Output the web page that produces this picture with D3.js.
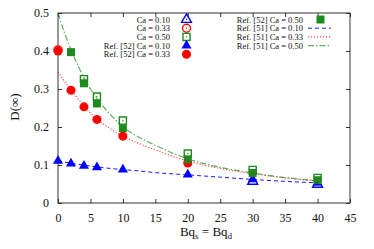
<!DOCTYPE html>
<html>
<head>
<meta charset="utf-8">
<script src="https://cdn.jsdelivr.net/npm/d3@7"></script>
<style>
  body { margin: 0; background: #fff; }
  text { font-family: "Liberation Serif", "DejaVu Serif", serif; fill: #111; }
</style>
</head>
<body>
<div id="chart"></div>
<script>
// --- data ---
var xTicks = [0, 5, 10, 15, 20, 25, 30, 35, 40, 45];
var yTicks = [0, 0.1, 0.2, 0.3, 0.4, 0.5];

// present DNS (open markers)
var dns010 = [[30, 0.057], [40, 0.049]];
var dns033 = [[0, 0.403]];
var dns050 = [[4, 0.326], [6, 0.280], [10, 0.217], [20, 0.130], [30, 0.087], [40, 0.066]];

// Ref. [52] (filled markers)
var ref52_010 = [[0, 0.111], [2, 0.104], [4, 0.098], [6, 0.094], [10, 0.088], [20, 0.075], [30, 0.062], [40, 0.053]];
var ref52_033 = [[0, 0.400], [2, 0.297], [4, 0.253], [6, 0.220], [10, 0.176], [20, 0.105]];
var ref52_050 = [[2, 0.397], [4, 0.315], [6, 0.262], [10, 0.197], [20, 0.115], [30, 0.079], [40, 0.060]];

// Ref. [51] (curves)
var curveX = [0, 1, 2, 3, 4, 5, 6, 8, 10, 12, 15, 20, 25, 30, 35, 40];
var ref51_010 = [0.111, 0.108, 0.105, 0.102, 0.100, 0.097, 0.095, 0.091, 0.088, 0.085, 0.080, 0.074, 0.068, 0.062, 0.057, 0.053];
var ref51_033 = [0.345, 0.320, 0.298, 0.276, 0.256, 0.237, 0.221, 0.196, 0.176, 0.160, 0.140, 0.110, 0.091, 0.077, 0.066, 0.058];
var ref51_050 = [0.500, 0.448, 0.403, 0.364, 0.330, 0.300, 0.275, 0.234, 0.200, 0.178, 0.152, 0.116, 0.094, 0.079, 0.067, 0.059];

var blue = "#0000ff", red = "#ff0000", green = "#1f8a1f";

var width = 374, height = 249;
var svg = d3.select("#chart").append("svg")
    .attr("width", width)
    .attr("height", height);

var x = d3.scaleLinear().domain([0, 45]).range([58, 350]);
var y = d3.scaleLinear().domain([0, 0.5]).range([203, 13]);

// axes (inward ticks on all four sides)
var fmtY = function (d) { return d === 0 ? "0" : d3.format(".1f")(d); };
svg.append("g").attr("transform", "translate(0,203)")
    .call(d3.axisBottom(x).tickValues(xTicks).tickSize(-4).tickPadding(10))
    .call(function (g) { g.select(".domain").remove(); });
svg.append("g").attr("transform", "translate(0,13)")
    .call(d3.axisTop(x).tickValues(xTicks).tickSize(-4).tickFormat(""))
    .call(function (g) { g.select(".domain").remove(); });
svg.append("g").attr("transform", "translate(58,0)")
    .call(d3.axisLeft(y).tickValues(yTicks).tickSize(-4).tickPadding(9).tickFormat(fmtY))
    .call(function (g) { g.select(".domain").remove(); });
svg.append("g").attr("transform", "translate(350,0)")
    .call(d3.axisRight(y).tickValues(yTicks).tickSize(-4).tickFormat(""))
    .call(function (g) { g.select(".domain").remove(); });
svg.selectAll(".tick line").attr("stroke", "#333");
svg.selectAll(".tick text").style("font-size", "12px").style("font-family", "Liberation Serif, serif").attr("fill", "#111");

svg.append("rect")
    .attr("x", x(0)).attr("y", y(0.5))
    .attr("width", x(45) - x(0)).attr("height", y(0) - y(0.5))
    .attr("fill", "none").attr("stroke", "#333").attr("stroke-width", 1);

// axis titles
var xl = svg.append("text").attr("x", 206).attr("y", 236)
    .attr("text-anchor", "middle").style("font-size", "13px");
xl.append("tspan").text("Bq");
xl.append("tspan").attr("dy", 2.5).style("font-size", "9px").text("s");
xl.append("tspan").attr("dy", -2.5).text(" = Bq");
xl.append("tspan").attr("dy", 2.5).style("font-size", "9px").text("d");

svg.append("text")
    .attr("transform", "translate(19,107) rotate(-90)")
    .attr("text-anchor", "middle").style("font-size", "13px")
    .text("D(\u221e)");

// marker helpers
var tri = d3.symbol().type(d3.symbolTriangle);
var sq = d3.symbol().type(d3.symbolSquare);
var circ = d3.symbol().type(d3.symbolCircle);

function openMarks(data, gen, size, color) {
    var g = svg.append("g");
    g.selectAll("path").data(data).enter().append("path")
        .attr("d", gen.size(size)())
        .attr("transform", function (d) { return "translate(" + x(d[0]) + "," + y(d[1]) + ")"; })
        .attr("fill", "none").attr("stroke", color).attr("stroke-width", 1.4);
    g.selectAll("circle").data(data).enter().append("circle")
        .attr("cx", function (d) { return x(d[0]); })
        .attr("cy", function (d) { return y(d[1]); })
        .attr("r", 0.7).attr("fill", color);
}
function filledMarks(data, gen, size, color) {
    svg.append("g").selectAll("path").data(data).enter().append("path")
        .attr("d", gen.size(size)())
        .attr("transform", function (d) { return "translate(" + x(d[0]) + "," + y(d[1]) + ")"; })
        .attr("fill", color);
}

openMarks(dns010, tri, 42, blue);
openMarks(dns033, circ, 50, red);
openMarks(dns050, sq, 50, green);
filledMarks(ref52_010, tri, 44, blue);
filledMarks(ref52_033, circ, 64, red);
filledMarks(ref52_050, sq, 64, green);

// curves
var line = d3.line()
    .x(function (d) { return x(d[0]); })
    .y(function (d) { return y(d[1]); })
    .curve(d3.curveMonotoneX);
function zipC(vals) { return curveX.map(function (v, i) { return [v, vals[i]]; }); }

var lineStyles = [
    { vals: ref51_010, color: blue, dash: "4,3", w: 1, op: 0.9 },
    { vals: ref51_033, color: red, dash: "1.2,1.8", w: 1.1, op: 0.75 },
    { vals: ref51_050, color: green, dash: "6,2,1.5,2", w: 1.2, op: 0.7 }
];
lineStyles.forEach(function (s) {
    svg.append("path").datum(zipC(s.vals))
        .attr("d", line)
        .attr("fill", "none")
        .attr("stroke", s.color)
        .attr("stroke-width", s.w)
        .attr("stroke-opacity", s.op)
        .attr("stroke-dasharray", s.dash);
});

// legend
var legLeft = [
    { label: "Ca = 0.10", kind: "open", gen: tri, size: 42, color: blue },
    { label: "Ca = 0.33", kind: "open", gen: circ, size: 50, color: red },
    { label: "Ca = 0.50", kind: "open", gen: sq, size: 50, color: green },
    { label: "Ref. [52] Ca = 0.10", kind: "filled", gen: tri, size: 44, color: blue },
    { label: "Ref. [52] Ca = 0.33", kind: "filled", gen: circ, size: 64, color: red }
];
var legRight = [
    { label: "Ref. [52] Ca = 0.50", kind: "filled", gen: sq, size: 64, color: green },
    { label: "Ref. [51] Ca = 0.10", kind: "line", style: lineStyles[0] },
    { label: "Ref. [51] Ca = 0.33", kind: "line", style: lineStyles[1] },
    { label: "Ref. [51] Ca = 0.50", kind: "line", style: lineStyles[2] }
];
function drawLegend(items, textX, markX, lineX0, lineX1) {
    items.forEach(function (it, i) {
        var yy = 19.5 + i * 8.7;
        svg.append("text").attr("x", textX).attr("y", yy + 3)
            .attr("text-anchor", "end").style("font-size", "8.5px").text(it.label);
        if (it.kind === "line") {
            svg.append("line").attr("x1", lineX0).attr("x2", lineX1)
                .attr("y1", yy).attr("y2", yy)
                .attr("stroke", it.style.color).attr("stroke-width", it.style.w)
                .attr("stroke-opacity", it.style.op)
                .attr("stroke-dasharray", it.style.dash);
        } else {
            var p = svg.append("path").attr("d", it.gen.size(it.size)())
                .attr("transform", "translate(" + markX + "," + yy + ")");
            if (it.kind === "open") {
                p.attr("fill", "none").attr("stroke", it.color).attr("stroke-width", 1.4);
                svg.append("circle").attr("cx", markX).attr("cy", yy).attr("r", 0.7).attr("fill", it.color);
            } else {
                p.attr("fill", it.color);
            }
        }
    });
}
drawLegend(legLeft, 170, 186.5);
drawLegend(legRight, 303, 320.5, 308, 331);
</script>
</body>
</html>
